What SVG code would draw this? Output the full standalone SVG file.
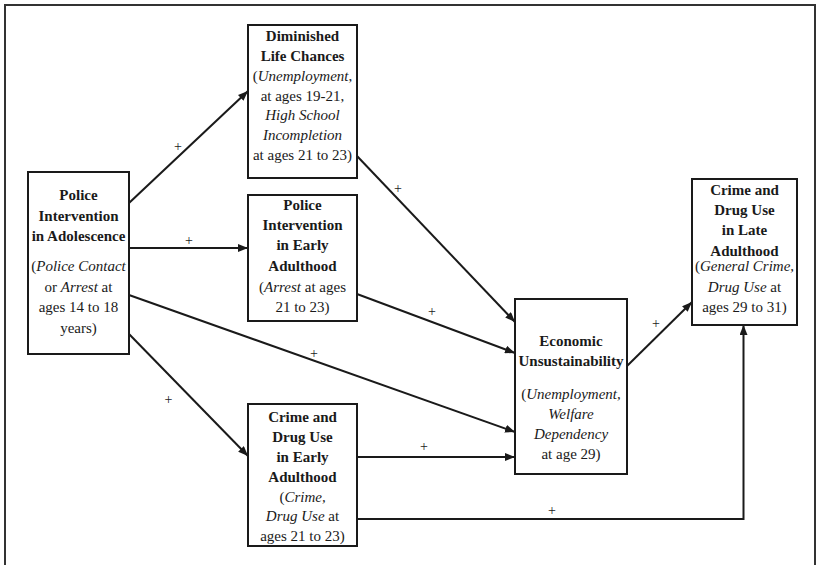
<svg xmlns="http://www.w3.org/2000/svg" width="818" height="565" viewBox="0 0 818 565">
<defs>
<marker id="ah" markerUnits="userSpaceOnUse" markerWidth="10" markerHeight="8" refX="10" refY="4" orient="auto">
<path d="M0,0 L10,4 L0,8 z" fill="#1a1a1a"/>
</marker>
<style>
.box{fill:#fff;stroke:#1a1a1a;stroke-width:2}
.t{font-family:"Liberation Serif","Times New Roman",serif;font-size:15px;fill:#1a1a1a;text-anchor:middle}
.b{font-weight:bold}
.i{font-style:italic}
.c{fill:none;stroke:#1a1a1a;stroke-width:2}
.p{font-family:"Liberation Serif","Times New Roman",serif;font-size:14px;fill:#1a1a1a;text-anchor:middle}
</style>
</defs>
<rect width="818" height="565" fill="#fff"/>
<path d="M5,565 V5 H815 V565" fill="none" stroke="#333" stroke-width="2"/>

<g id="connectors">
<line class="c" x1="129" y1="203" x2="248" y2="91" marker-end="url(#ah)"/>
<line class="c" x1="129" y1="248" x2="248" y2="248" marker-end="url(#ah)"/>
<line class="c" x1="129" y1="295" x2="515" y2="432" marker-end="url(#ah)"/>
<line class="c" x1="129" y1="334" x2="248" y2="456" marker-end="url(#ah)"/>
<line class="c" x1="357" y1="156" x2="515" y2="322" marker-end="url(#ah)"/>
<line class="c" x1="357" y1="294" x2="515" y2="353" marker-end="url(#ah)"/>
<line class="c" x1="357" y1="457" x2="515" y2="457" marker-end="url(#ah)"/>
<path class="c" d="M357,519 H743.5 V325" marker-end="url(#ah)"/>
<line class="c" x1="627" y1="366" x2="692" y2="302" marker-end="url(#ah)"/>
<text class="p" x="178" y="150.5">+</text>
<text class="p" x="189" y="245">+</text>
<text class="p" x="314" y="357.5">+</text>
<text class="p" x="168.5" y="403.5">+</text>
<text class="p" x="398" y="192.5">+</text>
<text class="p" x="432" y="316">+</text>
<text class="p" x="424" y="450.5">+</text>
<text class="p" x="552" y="514.5">+</text>
<text class="p" x="656" y="328">+</text>
</g>

<g id="adolescence">
<rect class="box" x="28" y="172" width="101" height="182"/>
<text class="t b" x="78.5" y="200">Police</text>
<text class="t b" x="78.5" y="220.5">Intervention</text>
<text class="t b" x="78.5" y="241">in Adolescence</text>
<text class="t" x="78.5" y="271">(<tspan class="i">Police Contact</tspan></text>
<text class="t" x="78.5" y="291.5">or <tspan class="i">Arrest</tspan> at</text>
<text class="t" x="78.5" y="312">ages 14 to 18</text>
<text class="t" x="78.5" y="332.5">years)</text>
</g>

<g id="diminished">
<rect class="box" x="248" y="25" width="109" height="153"/>
<text class="t b" x="302.5" y="41">Diminished</text>
<text class="t b" x="302.5" y="61">Life Chances</text>
<text class="t" x="302.5" y="81">(<tspan class="i">Unemployment</tspan>,</text>
<text class="t" x="302.5" y="100.5">at ages 19-21,</text>
<text class="t i" x="302.5" y="120">High School</text>
<text class="t i" x="302.5" y="140">Incompletion</text>
<text class="t" x="302.5" y="160">at ages 21 to 23)</text>
</g>

<g id="police-early">
<rect class="box" x="248" y="195" width="109" height="126"/>
<text class="t b" x="302.5" y="209.5">Police</text>
<text class="t b" x="302.5" y="230">Intervention</text>
<text class="t b" x="302.5" y="250">in Early</text>
<text class="t b" x="302.5" y="271">Adulthood</text>
<text class="t" x="302.5" y="291.5">(<tspan class="i">Arrest</tspan> at ages</text>
<text class="t" x="302.5" y="311.5">21 to 23)</text>
</g>

<g id="crime-early">
<rect class="box" x="248" y="404" width="109" height="142"/>
<text class="t b" x="302.5" y="421.5">Crime and</text>
<text class="t b" x="302.5" y="441.5">Drug Use</text>
<text class="t b" x="302.5" y="461.5">in Early</text>
<text class="t b" x="302.5" y="481.5">Adulthood</text>
<text class="t" x="302.5" y="501.5">(<tspan class="i">Crime,</tspan></text>
<text class="t" x="302.5" y="521"><tspan class="i">Drug Use</tspan> at</text>
<text class="t" x="302.5" y="540.5">ages 21 to 23)</text>
</g>

<g id="economic">
<rect class="box" x="515" y="299" width="112" height="175"/>
<text class="t b" x="571" y="346">Economic</text>
<text class="t b" x="571" y="366">Unsustainability</text>
<text class="t" x="571" y="399">(<tspan class="i">Unemployment,</tspan></text>
<text class="t i" x="571" y="419">Welfare</text>
<text class="t i" x="571" y="439">Dependency</text>
<text class="t" x="571" y="459">at age 29)</text>
</g>

<g id="crime-late">
<rect class="box" x="692" y="179" width="105" height="146"/>
<text class="t b" x="744.5" y="195">Crime and</text>
<text class="t b" x="744.5" y="215">Drug Use</text>
<text class="t b" x="744.5" y="235">in Late</text>
<text class="t b" x="744.5" y="255.5">Adulthood</text>
<text class="t" x="744.5" y="271">(<tspan class="i">General Crime,</tspan></text>
<text class="t" x="744.5" y="291.5"><tspan class="i">Drug Use</tspan> at</text>
<text class="t" x="744.5" y="311.5">ages 29 to 31)</text>
</g>
</svg>
